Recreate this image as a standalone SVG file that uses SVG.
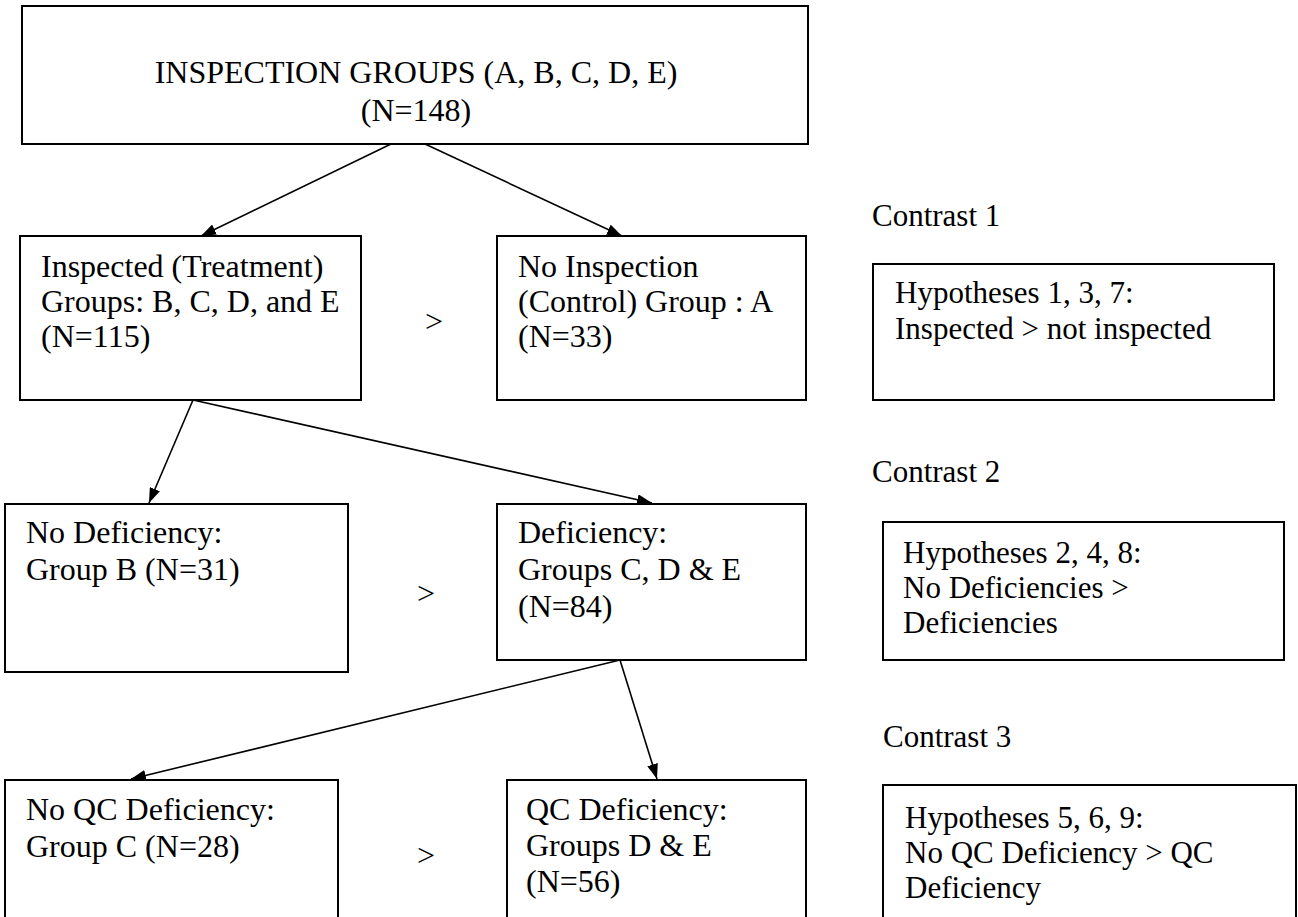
<svg xmlns="http://www.w3.org/2000/svg" width="1298" height="917" viewBox="0 0 1298 917">
<style>
.box{fill:#fff;stroke:#000;stroke-width:2}
.t{font-family:"Liberation Serif","Times New Roman",serif;font-size:32px;fill:#000}
.r{font-size:31px}
.c{text-anchor:middle}
.conn line{stroke:#000;stroke-width:1.6}
</style>
<defs>
<marker id="ah" viewBox="0 0 15 11" refX="15" refY="5.5" markerWidth="15" markerHeight="11" markerUnits="userSpaceOnUse" orient="auto">
<path d="M0,0 L15,5.5 L0,11 z" fill="#000"/>
</marker>
</defs>
<rect width="1298" height="917" fill="#fff"/>
<g id="connectors" class="conn">
<line x1="391" y1="144" x2="201" y2="236" marker-end="url(#ah)"/>
<line x1="425" y1="144" x2="622" y2="236" marker-end="url(#ah)"/>
<line x1="193" y1="400" x2="149" y2="503" marker-end="url(#ah)"/>
<line x1="193" y1="400" x2="652" y2="503" marker-end="url(#ah)"/>
<line x1="620" y1="660" x2="131" y2="779" marker-end="url(#ah)"/>
<line x1="620" y1="660" x2="657" y2="779" marker-end="url(#ah)"/>
</g>
<g id="top">
<rect class="box" x="22" y="6" width="786" height="138"/>
<text class="t c" x="416" y="83">INSPECTION GROUPS (A, B, C, D, E)<tspan x="416" dy="38">(N=148)</tspan></text>
</g>
<g id="inspected">
<rect class="box" x="20" y="236" width="341" height="164"/>
<text class="t" x="41" y="277">Inspected (Treatment)<tspan x="41" dy="35">Groups: B, C, D, and E</tspan><tspan x="41" dy="35">(N=115)</tspan></text>
</g>
<text class="t" x="425" y="332">&gt;</text>
<g id="noinspection">
<rect class="box" x="497" y="236" width="309" height="164"/>
<text class="t" x="518" y="277">No Inspection<tspan x="518" dy="35">(Control) Group : A</tspan><tspan x="518" dy="35">(N=33)</tspan></text>
</g>
<g id="nodef">
<rect class="box" x="5" y="504" width="343" height="168"/>
<text class="t" x="26" y="543">No Deficiency:<tspan x="26" dy="37">Group B (N=31)</tspan></text>
</g>
<text class="t" x="417" y="604">&gt;</text>
<g id="def">
<rect class="box" x="497" y="504" width="309" height="156"/>
<text class="t" x="518" y="543">Deficiency:<tspan x="518" dy="37">Groups C, D &amp; E</tspan><tspan x="518" dy="37">(N=84)</tspan></text>
</g>
<g id="noqc">
<rect class="box" x="5" y="780" width="333" height="150"/>
<text class="t" x="26" y="820">No QC Deficiency:<tspan x="26" dy="37">Group C (N=28)</tspan></text>
</g>
<text class="t" x="417" y="866">&gt;</text>
<g id="qc">
<rect class="box" x="507" y="780" width="299" height="150"/>
<text class="t" x="526" y="820">QC Deficiency:<tspan x="526" dy="36">Groups D &amp; E</tspan><tspan x="526" dy="36">(N=56)</tspan></text>
</g>
<g id="contrast1">
<text class="t r" x="872" y="226">Contrast 1</text>
<rect class="box" x="873" y="264" width="401" height="136"/>
<text class="t r" x="895" y="303">Hypotheses 1, 3, 7:<tspan x="895" dy="36">Inspected &gt; not inspected</tspan></text>
</g>
<g id="contrast2">
<text class="t r" x="872" y="482">Contrast 2</text>
<rect class="box" x="883" y="522" width="401" height="138"/>
<text class="t r" x="903" y="563">Hypotheses 2, 4, 8:<tspan x="903" dy="35">No Deficiencies &gt;</tspan><tspan x="903" dy="35">Deficiencies</tspan></text>
</g>
<g id="contrast3">
<text class="t r" x="883" y="747">Contrast 3</text>
<rect class="box" x="883" y="785" width="413" height="150"/>
<text class="t r" x="905" y="828">Hypotheses 5, 6, 9:<tspan x="905" dy="35">No QC Deficiency &gt; QC</tspan><tspan x="905" dy="35">Deficiency</tspan></text>
</g>
</svg>
